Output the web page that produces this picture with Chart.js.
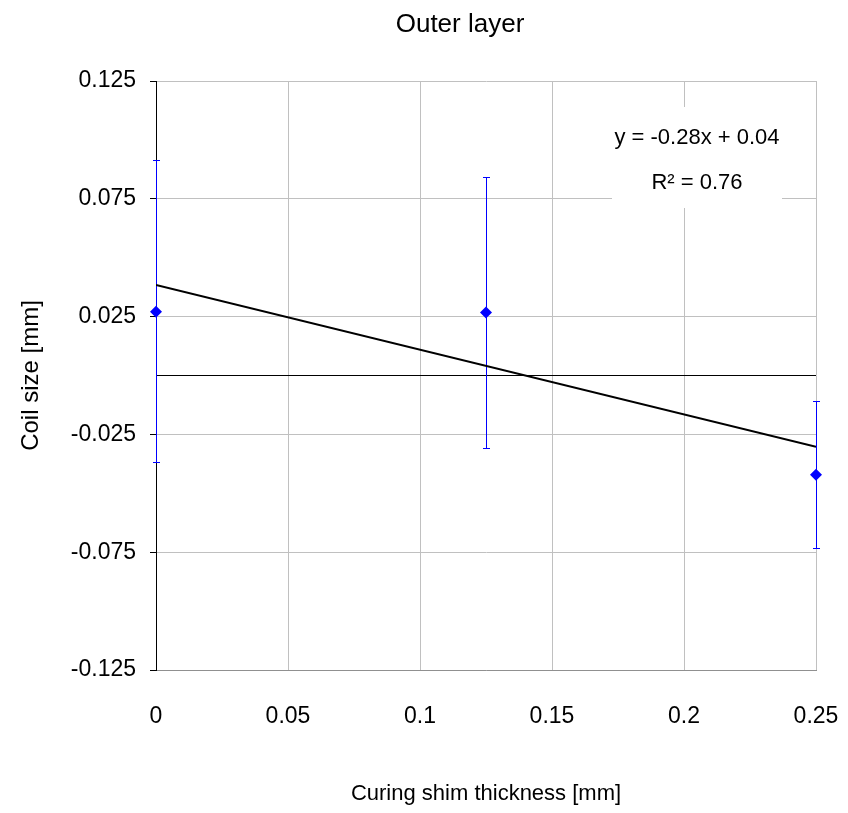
<!DOCTYPE html>
<html>
<head>
<meta charset="utf-8">
<script src="https://cdn.jsdelivr.net/npm/chart.js@4"></script>
<style>
html,body{margin:0;padding:0;background:#fff;}
#wrap{width:848px;height:813px;}
</style>
</head>
<body>
<div id="wrap"><canvas id="c" width="848" height="813"></canvas></div>
<script>
// ---- data ----
const shimThickness = [0, 0.125, 0.25];
const coilSize = [0.0271, 0.0267, -0.0421];
const errHigh = [0.0914, 0.0843, -0.0108];
const errLow = [-0.0366, -0.0308, -0.0731];
const trendX = [0, 0.25];
const trendY = [0.0384, -0.0303];
const xTicks = [0, 0.05, 0.1, 0.15, 0.2, 0.25];
const yTicks = [-0.125, -0.075, -0.025, 0.025, 0.075, 0.125];
const titleText = 'Outer layer';
const xTitle = 'Curing shim thickness [mm]';
const yTitle = 'Coil size [mm]';
const eqLines = ['y = -0.28x + 0.04', 'R\u00B2 = 0.76'];

const FONT = "'Liberation Sans',Arial,sans-serif";

const errorBarPlugin = {
  id: 'errorBars',
  beforeDatasetsDraw(chart) {
    const ctx = chart.ctx, xs = chart.scales.x, ys = chart.scales.y, ca = chart.chartArea;
    // equation box
    ctx.save();
    const bx = ca.right - 204, by = ca.top + 26, bw = 170, bh = 101;
    ctx.fillStyle = '#fff';
    ctx.fillRect(bx, by, bw, bh);
    ctx.fillStyle = '#000';
    ctx.font = '22px ' + FONT;
    ctx.textAlign = 'center';
    ctx.textBaseline = 'middle';
    ctx.fillText(eqLines[0], bx + bw / 2, by + 31);
    ctx.fillText(eqLines[1], bx + bw / 2, by + 76);
    ctx.restore();
    // error bars
    shimThickness.forEach((xv, i) => {
      const px = Math.round(xs.getPixelForValue(xv)) + 0.5;
      const top = Math.round(ys.getPixelForValue(errHigh[i])) + 0.5;
      const bot = Math.round(ys.getPixelForValue(errLow[i])) + 0.5;
      ctx.save();
      ctx.strokeStyle = 'rgb(0,0,255)';
      ctx.lineWidth = 1;
      ctx.beginPath();
      ctx.moveTo(px, top); ctx.lineTo(px, bot);
      ctx.moveTo(px - 3.5, top); ctx.lineTo(px + 3.5, top);
      ctx.moveTo(px - 3.5, bot); ctx.lineTo(px + 3.5, bot);
      ctx.stroke();
      ctx.restore();
    });
  },
  afterDraw(chart) {
    const ctx = chart.ctx, ca = chart.chartArea;
    ctx.save();
    ctx.fillStyle = '#000';
    ctx.font = '26px ' + FONT;
    ctx.textAlign = 'center';
    ctx.textBaseline = 'middle';
    ctx.fillText(titleText, (ca.left + ca.right) / 2 - 26, 25);
    ctx.restore();
  }
};

new Chart(document.getElementById('c'), {
  type: 'scatter',
  data: {
    datasets: [
      {
        label: 'Trend',
        type: 'line',
        data: trendX.map((x, i) => ({x, y: trendY[i]})),
        borderColor: '#000',
        borderWidth: 2,
        pointRadius: 0,
        fill: false,
        order: 2
      },
      {
        label: 'Coil size',
        data: shimThickness.map((x, i) => ({x, y: coilSize[i]})),
        pointStyle: 'rectRot',
        pointRadius: 6,
        pointBackgroundColor: '#0000ff',
        pointBorderColor: '#0000ff',
        borderWidth: 0,
        clip: false,
        order: 1
      }
    ]
  },
  options: {
    responsive: false,
    animation: false,
    layout: {padding: {top: 81, right: 32, left: 0, bottom: 0}},
    plugins: {legend: {display: false}, tooltip: {enabled: false}, title: {display: false}},
    scales: {
      x: {
        type: 'linear', min: 0, max: 0.25,
        afterFit(s) { s.height = 143; s.paddingLeft = 0; s.paddingRight = 0; },
        afterBuildTicks(s) { s.ticks = xTicks.map(v => ({value: v})); },
        grid: {color: '#c0c0c0', lineWidth: 1, drawTicks: false},
        border: {color: '#909090', width: 1},
        ticks: {
          padding: 33, color: '#000', font: {family: FONT, size: 23},
          maxRotation: 0, autoSkip: false,
          callback: v => String(v)
        },
        title: {display: true, text: xTitle, color: '#000', font: {family: FONT, size: 22}, padding: {top: 0, bottom: 6}}
      },
      y: {
        type: 'linear', min: -0.125, max: 0.125,
        afterFit(s) { s.width = 156; },
        afterBuildTicks(s) { s.ticks = yTicks.map(v => ({value: v})).concat([{value: 0}]); },
        grid: {
          color: c => (c.tick && c.tick.value === 0) ? '#000' : '#c0c0c0',
          lineWidth: 1, tickLength: 6,
          tickColor: c => (c.tick && c.tick.value === 0) ? 'rgba(0,0,0,0)' : '#000'
        },
        border: {color: '#000', width: 1},
        ticks: {
          padding: 14, color: '#000', font: {family: FONT, size: 23},
          autoSkip: false,
          callback: v => v === 0 ? '' : String(v)
        },
        title: {display: true, text: yTitle, color: '#000', font: {family: FONT, size: 24}, padding: {top: 17, bottom: 0}}
      }
    }
  },
  plugins: [errorBarPlugin]
});
</script>
</body>
</html>
